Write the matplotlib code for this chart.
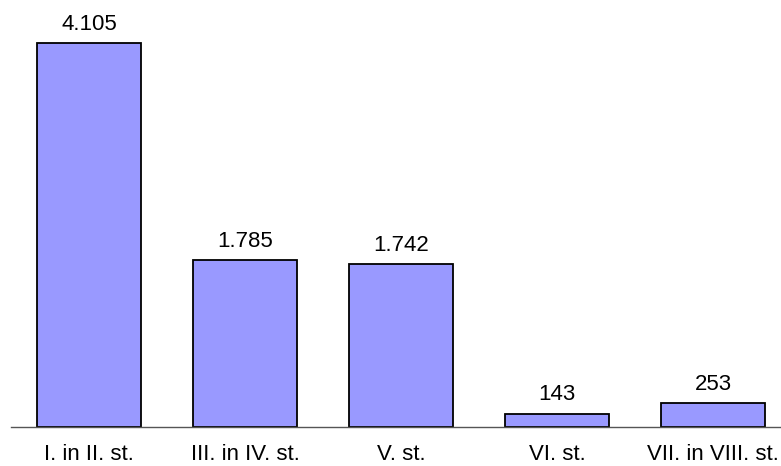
import matplotlib
matplotlib.use("Agg")
import matplotlib.pyplot as plt
import numpy as np

categories = ["I. in II. st.", "III. in IV. st.", "V. st.", "VI. st.", "VII. in VIII. st."]
values = [4105, 1785, 1742, 143, 253]
value_labels = ["4.105", "1.785", "1.742", "143", "253"]

plt.rcParams["font.family"] = ["Liberation Sans", "DejaVu Sans"]

fig = plt.figure(figsize=(7.81, 4.66), dpi=100)
ax = fig.add_axes([11 / 781, 39 / 466, 780 / 781, 427 / 466])

x = np.arange(len(categories))
bars = ax.bar(x, values, width=0.667, color="#9999FF", edgecolor="black", linewidth=1.3, zorder=2)

for xi, v, lab in zip(x, values, value_labels):
    ax.annotate(lab, (xi, v), xytext=(0, 6), textcoords="offset points",
                ha="center", va="bottom", fontsize=16)

ax.set_xlim(-0.5, len(categories) - 0.5)
ax.set_ylim(0, 4105 * 427 / 384)
ax.set_xticks(x)
ax.set_xticklabels(categories, fontsize=16)
ax.tick_params(axis="x", length=0, pad=12)
ax.set_yticks([])
for side in ["top", "right", "left"]:
    ax.spines[side].set_visible(False)
ax.spines["bottom"].set_color("#555555")
ax.spines["bottom"].set_linewidth(1.0)

fig.savefig("out.png", dpi=100)
